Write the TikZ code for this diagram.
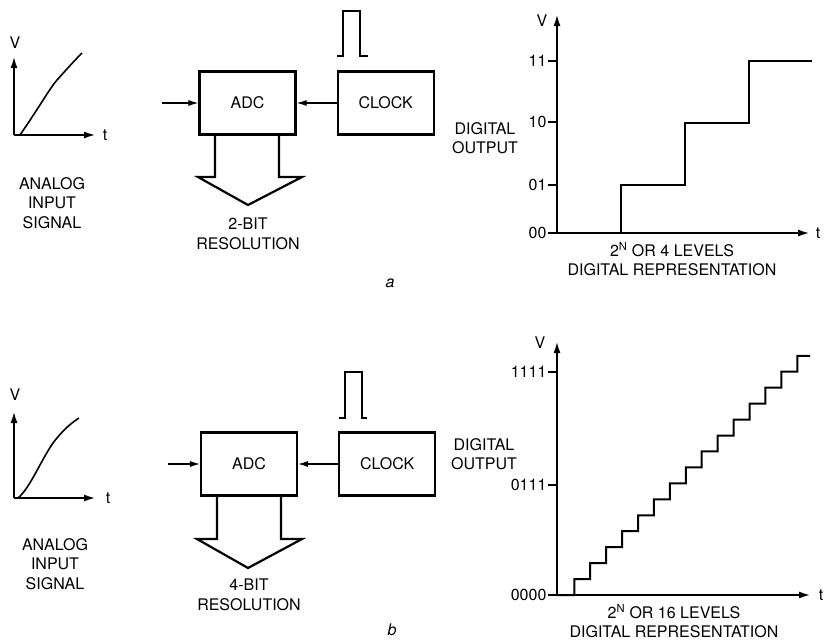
\documentclass[tikz,border=0pt]{standalone}
\usepackage{fontspec}
\setmainfont{TeX Gyre Heros}
\usepackage{tikz}
\usetikzlibrary{positioning, arrows.meta}

\begin{document}
\begin{tikzpicture}[x=1pt,y=-1pt,>={Latex[length=10pt,width=6pt]},
    font=\fontsize{16}{19.5}\selectfont,
    blk/.style={draw,line width=2.2pt,minimum width=96pt,minimum height=63pt,inner sep=0pt},
    ax/.style={line width=2.2pt,-{Latex[length=12pt,width=7pt]}},
    feed/.style={->,line width=1.1pt},
    fat/.style={line width=2.2pt,line join=miter},
    pulse/.style={line width=1.6pt},
    stair/.style={line width=2pt},
    lbl/.style={align=center,inner sep=0pt},
    tick/.style={line width=1.2pt}]
    \useasboundingbox (0,0) rectangle (828,640);

    % ---- a ----
    \coordinate (oa) at (14,135);
    \draw[ax] (oa) -- (14,56);
    \draw[ax] (oa) -- (96,135);
    \node[lbl] (va) at (15,43) {V};
    \node[lbl] (ta) at (105,135) {t};
    \draw[line width=1.6pt] (20,135) .. controls (40,106) and (50,88) .. (57,80) .. controls (66,70) and (74,61) .. (82,53);
    \node[lbl] (siga) at (52,203) {ANALOG\\INPUT\\SIGNAL};

    \node[blk] (adca) at (247.5,103) {ADC};
    \node[blk,right=40pt of adca] (clka) {CLOCK};
    \coordinate (ina) at (162,103);
    \draw[feed] (ina) -- (adca);
    \draw[feed] (clka) -- (adca);
    \draw[pulse] (337,56) -- (343,56) -- (343,11) -- (360,11) -- (360,56) -- (368,56);
    \draw[fat] (215,135) -- (215,177) -- (198,177) -- (248,205) -- (302,177) -- (279,177) -- (279,135);
    \node[lbl] (resa) at (248,234) {2-BIT\\RESOLUTION};

    \coordinate (da) at (557,233);
    \draw[ax] (da) -- (557,14);
    \draw[ax] (da) -- (810,233);
    \node[lbl] (vda) at (542,21) {V};
    \node[lbl] (tda) at (818,233) {t};
    \foreach \y/\t in {233/00,185/01,122/10,61/11}
        \draw[tick] (548,\y) node[left,inner sep=1pt] {\t} -- (557,\y);
    \draw[stair] (da) -- (621,233) -- (621,185) -- (685,185) -- (685,123) -- (749,123) -- (749,61) -- (812,61);
    \node[lbl] (outa) at (485,138) {DIGITAL\\OUTPUT};
    \node[lbl] (reprea) at (672,259) {2\textsuperscript{N} OR 4 LEVELS\\DIGITAL REPRESENTATION};
    \node[lbl] (capa) at (390,283) {\itshape a};

    % ---- b ----
    \coordinate (ob) at (14,498);
    \draw[ax] (ob) -- (14,411);
    \draw[ax] (ob) -- (96,498);
    \node[lbl] (vb) at (15,395) {V};
    \node[lbl] (tb) at (108,498) {t};
    \draw[line width=1.6pt] (18,498) .. controls (30,488) and (40,462) .. (53,443) .. controls (63,430) and (70,424) .. (79,418);
    \node[lbl] (sigb) at (55,564) {ANALOG\\INPUT\\SIGNAL};

    \node[blk] (adcb) at (249,464) {ADC};
    \node[blk,right=40pt of adcb] (clkb) {CLOCK};
    \coordinate (inb) at (168,464);
    \draw[feed] (inb) -- (adcb);
    \draw[feed] (clkb) -- (adcb);
    \draw[pulse] (339,418) -- (345,418) -- (345,372) -- (362,372) -- (362,418) -- (367,418);
    \draw[fat] (217,496) -- (217,539) -- (197,539) -- (248,568) -- (302,539) -- (281,539) -- (281,496);
    \node[lbl] (resb) at (249,595) {4-BIT\\RESOLUTION};

    \coordinate (db) at (557,595);
    \draw[ax] (db) -- (557,341);
    \draw[ax] (db) -- (811,595);
    \node[lbl] (vdb) at (540,343) {V};
    \node[lbl] (tdb) at (821,595) {t};
    \foreach \y/\t in {595/0000,485/0111,372/1111}
        \draw[tick] (548,\y) node[left,inner sep=1pt] {\t} -- (557,\y);
    \draw[stair] (db) \foreach \k in {0,...,14} {
        -- ({574.3+15.93*\k},{595-15.95*\k}) -- ({574.3+15.93*\k},{595-15.95*(\k+1)}) } -- (810,355.75);
    \node[lbl] (outb) at (484,454) {DIGITAL\\OUTPUT};
    \node[lbl] (repreb) at (674,621) {2\textsuperscript{N} OR 16 LEVELS\\DIGITAL REPRESENTATION};
    \node[lbl] (capb) at (392,630) {\itshape b};
\end{tikzpicture}
\end{document}
